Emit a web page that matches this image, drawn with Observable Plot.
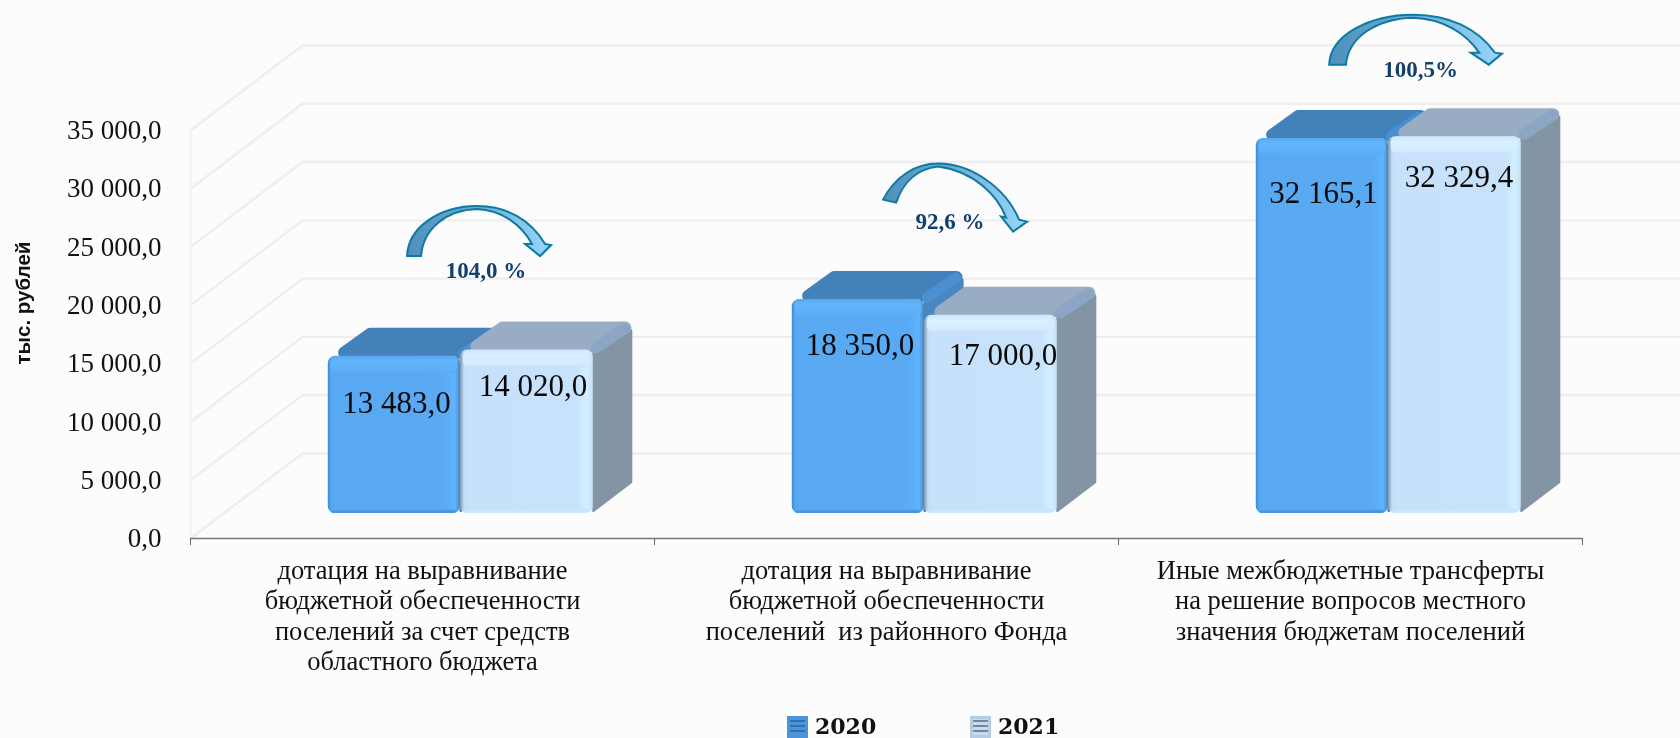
<!DOCTYPE html>
<html lang="ru"><head><meta charset="utf-8">
<script src="https://cdn.jsdelivr.net/npm/d3@7"></script>
<script src="https://cdn.jsdelivr.net/npm/@observablehq/plot@0.6"></script>
<style>
html,body{margin:0;padding:0;background:#fcfcfc;overflow:hidden;width:1680px;height:738px}
#chart svg{display:block;background:transparent;filter:blur(.45px)}
#legend{position:relative;height:24px;font:bold 22px "DejaVu Serif",serif;color:#111;filter:blur(.4px)}
#legend span{position:absolute;top:0;line-height:24px}
#legend i{position:absolute;top:2px;width:21px;height:22px;box-sizing:border-box}
</style></head><body>
<div id="chart"></div>
<div id="legend">
<i style="left:787px;background:repeating-linear-gradient(0deg,#4a94dc 0 3px,#2f6fae 3px 5px);border:3px solid #4a94dc"></i><span style="left:815px">2020</span>
<i style="left:970px;background:repeating-linear-gradient(0deg,#c8dcee 0 3px,#71879c 3px 5px);border:3px solid #b4cde2"></i><span style="left:998px">2021</span>
</div>
<script>
const categories = [
  "дотация на выравнивание\nбюджетной обеспеченности\nпоселений за счет средств\nобластного бюджета",
  "дотация на выравнивание\nбюджетной обеспеченности\nпоселений  из районного Фонда",
  "Иные межбюджетные трансферты\nна решение вопросов местного\nзначения бюджетам поселений"
];
const values2020 = [13483.0, 18350.0, 32165.1];
const values2021 = [14020.0, 17000.0, 32329.4];
const percents = ["104,0 %", "92,6 %", "100,5%"];
const yTicks = [0, 5000, 10000, 15000, 20000, 25000, 30000, 35000];
const years = ["2020", "2021"];

// oblique projection of the 3-D chart box, in scale units
const kx = 112 / 464, ky = 85 / 408 * 35000;
const z0 = 0.294, z1 = 0.634;
const slots = [[0.226, 0.511], [0.511, 0.797]];
const labelNudge = [[2, 47], [1.5, 45], [1, 54.5], [6, 36], [12, 40], [4, 40]];
const percentLift = [79, 78, 67];

const fmt = v => d3.format(",.1f")(v).replace(/,/g, " ").replace(".", ",");
const looks = [
  {front:"url(#fb)", bevel:"url(#tb)", low:"url(#bb)", top:"#4281b9", side:"#4a86c0", edge:"#4b8fd0"},
  {front:"url(#fl)", bevel:"url(#tl)", low:"url(#bl)", top:"#98adc3", side:"#8394a5", edge:"#8ba6c2"}
];
const bars = [values2020, values2021].flatMap((vals, s) => vals.map((v, i) => ({
  id: `${years[s]}-${i}`, s, i, v, a: i + slots[s][0], b: i + slots[s][1], look: looks[s]
})));
const P = (id, x, v, z) => ({id, X: x + z * kx, Y: v + z * ky});
const poly = (d, pts) => [...pts, pts[0]].map(([x, v, z]) => P(d.id, x, v, z));
const topFace = d => poly(d, [[d.a + .022, d.v - 40, z0 + .05], [d.b - .01, d.v - 40, z0 + .05], [d.b + .004, d.v - 40, z1 - .07], [d.a + .025, d.v - 40, z1 - .07]]);
const sideFace = d => poly(d, [[d.b, 200, z0], [d.b, d.v - 200, z0], [d.b, d.v - 300, z1 - .03], [d.b, d.v - 800, z1], [d.b, 200, z1]]);
const edgeLine = d => [P(d.id, d.b - .006, d.v - 170, z0 + .05), P(d.id, d.b + .001, d.v - 170, z1 - .065)];

const grid = yTicks.flatMap(v => [P(v, 0, v, 0), P(v, 0, v, 1), P(v, 3.3, v, 1)]);

const grads = [
  ["fb",0,[[0,"#3d88d2"],[.025,"#58a8f2"],[.88,"#59a9f3"],[.96,"#62b4ff"],[.99,"#4f93d4"],[1,"#3f7fbe"]]],
  ["fl",0,[[0,"#7f97ad"],[.03,"#c2dcf4"],[.06,"#c7e1fa"],[.88,"#c8e2fb"],[.95,"#d3eeff"],[1,"#c6e2f6"]]],
  ["tb",1,[[0,"#5aa8f0"],[.3,"#63b5fc"],[.75,"#5fb0f9"],[1,"#59a9f3"]]],
  ["tl",1,[[0,"#cfe6fb"],[.3,"#d8f0ff"],[.75,"#d4edff"],[1,"#c8e2fb"]]],
  ["bb",1,[[0,"#59a9f3"],[1,"#3f88d0"]]],
  ["bl",1,[[0,"#c8e2fb"],[1,"#d4e8f8"]]],
  ["ar",0,[[0,"#4f90bc"],[.45,"#6aa9d2"],[1,"#9bd6fb"]]]
];
const defs = () => {
  const g = d3.create("svg:defs");
  for (const [id, vertical, stops] of grads) {
    const lg = g.append("linearGradient").attr("id", id).attr("x1", 0).attr("y1", 0).attr("x2", vertical ? 0 : 1).attr("y2", vertical ? 1 : 0);
    for (const [o, c] of stops) lg.append("stop").attr("offset", o).attr("stop-color", c);
  }
  return g.node();
};

// arrow outline, drawn around its percent label
const arrow = s => ({
  draw(ctx) {
    const [[mx, my], c1, c2, w1, w2, w3, w4, c3, c4] = s;
    ctx.moveTo(mx, my);
    ctx.bezierCurveTo(...c1); ctx.bezierCurveTo(...c2);
    ctx.lineTo(...w1); ctx.lineTo(...w2); ctx.lineTo(...w3); ctx.lineTo(...w4);
    ctx.bezierCurveTo(...c3); ctx.bezierCurveTo(...c4);
    ctx.closePath();
  }
});
const shift = (pts, sx, ox, oy) => pts.map(p => p.map((n, k) => k % 2 ? n + oy : n * sx + ox));
const arcShape = [[-72, 0], [-71, -30, -38, -50, -2, -50], [28, -50, 52, -36, 66, -12], [72, -11], [61, 0], [46, -12], [53, -12],
  [42, -32, 22, -46, -2, -47], [-32, -46, -56, -28, -58, 0]];
const tiltedShape = [[-67, -22], [-55, -45, -35, -58, -12, -58], [20, -58, 55, -35, 69, -2], [77, 0], [63, 10], [51, -5], [56, -4],
  [48, -25, 25, -50, -12, -55], [-30, -53, -46, -42, -54, -19]];
const arrowShapes = [arrow(shift(arcShape, 1, -7, -15)), arrow(tiltedShape), arrow(shift(arcShape, 1.2, -5, -5))];
const topOf = i => Math.max(values2020[i], values2021[i]);

const marks = [defs,
  Plot.line(grid, {x:"X", y:"Y", z:"id", stroke:"#eeeeee", strokeWidth:2.4}),
  Plot.ruleX([0], {stroke:"#f3f3f3", strokeWidth:2}),
  Plot.ruleY([0], {stroke:"#777", strokeWidth:1.4}),
  Plot.axisX({ticks:[0, 1, 2, 3], tickFormat:() => "", tickSize:7, stroke:"#666", label:null}),
  Plot.axisY({ticks:yTicks, tickFormat:fmt, tickSize:0, tickPadding:29, fontSize:27, label:null,
    fontFamily:"Liberation Serif", fill:"#111"}),
  Plot.text(["тыс. рублей"], {y:20200, x:() => -0.36, rotate:-90, fontFamily:"Liberation Sans",
    fontWeight:"bold", fontSize:20.5, fill:"#111"}),
  Plot.text(categories, {x:(d, i) => i + 0.5, y:0, dy:19, lineAnchor:"top", lineHeight:1.143, fontSize:26.5,
    fontFamily:"Liberation Serif", fill:"#111"})
];
for (const d of bars) {
  const look = d.look, xa = d.a + z0 * kx, xb = d.b + z0 * kx, base = z0 * ky, front = d.v + base;
  const row = [d];
  const band = 1500;
  marks.push(
    Plot.line(sideFace(d), {x:"X", y:"Y", z:"id", fill:look.side, stroke:look.side, strokeWidth:2, strokeLinejoin:"round"}),
    Plot.line(topFace(d), {x:"X", y:"Y", z:"id", fill:look.top, stroke:look.top, strokeWidth:12, strokeLinejoin:"round"}),
    Plot.line(edgeLine(d), {x:"X", y:"Y", z:"id", stroke:look.edge, strokeWidth:11, strokeLinecap:"round"}),
    Plot.rect(row, {x1:() => xa, x2:() => xb, y1:() => base, y2:() => front, fill:look.front, rx:7, ry:7}),
    Plot.rect(row, {x1:() => xa + .006, x2:() => xb - .006, y1:() => front - band, y2:() => front - 30, fill:look.bevel, rx:6, ry:6}),
    Plot.rect(row, {x1:() => xa + .006, x2:() => xb - .008, y1:() => base + 20, y2:() => base + 320, fill:look.low, rx:2, ry:2})
  );
}
bars.forEach((d, n) => marks.push(Plot.text([fmt(d.v)], {
  x:() => (d.a + d.b) / 2 + z0 * kx, y:() => d.v + z0 * ky, dx:labelNudge[n][0], dy:labelNudge[n][1],
  fontSize:31, fontFamily:"Liberation Serif", fill:"#0a0a0a"
})));
percents.forEach((t, i) => {
  const at = {x:() => i + 0.637 + (i === 2 ? .014 : 0), y:() => topOf(i) + z0 * ky, dy:-percentLift[i]};
  marks.push(
    Plot.dot([t], {...at, symbol:arrowShapes[i], r:1, fill:"url(#ar)", stroke:"#0c7aa3", strokeWidth:2}),
    Plot.text([t], {...at, fontSize:23, fontWeight:"bold", fontFamily:"Liberation Serif", fill:"#123f6d"})
  );
});

const chart = Plot.plot({
  width:1680, height:714, marginLeft:190, marginRight:98, marginTop:130, marginBottom:176,
  x:{domain:[0, 3], axis:null}, y:{domain:[0, 35000], axis:null},
  style:{background:"transparent", overflow:"visible"},
  marks
});
document.getElementById("chart").append(chart);
</script>
</body></html>
